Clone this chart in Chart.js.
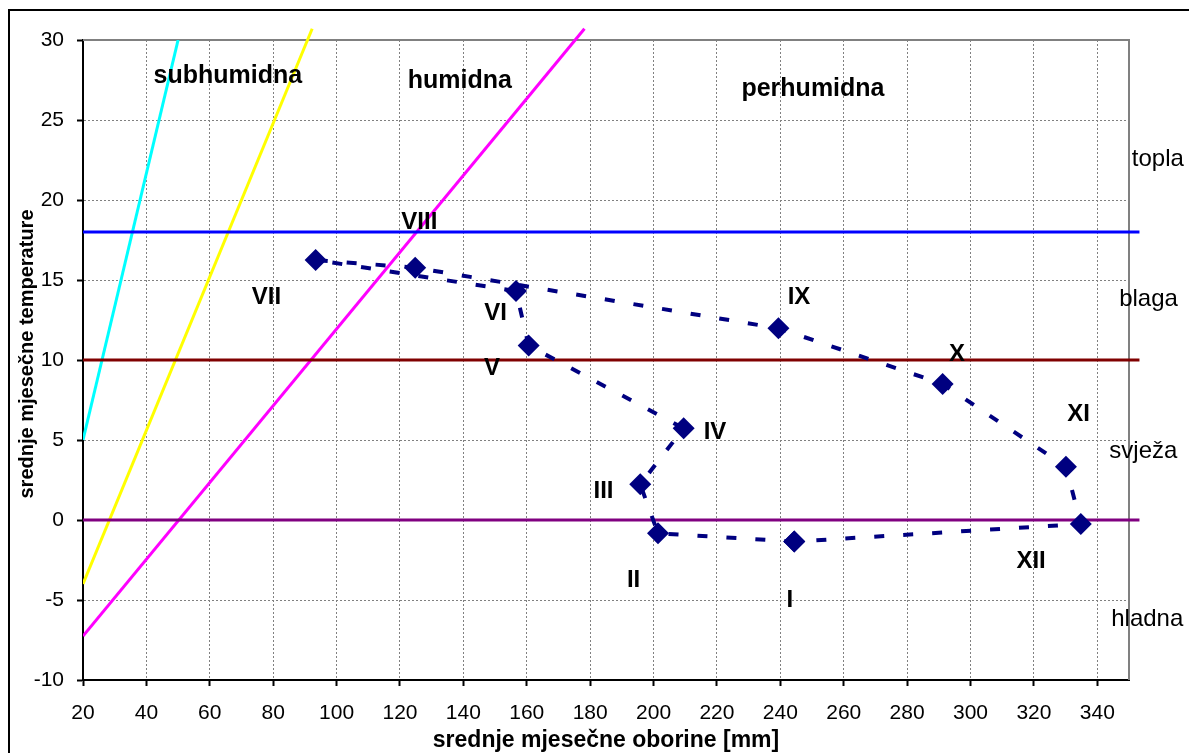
<!DOCTYPE html>
<html>
<head>
<meta charset="utf-8">
<script src="https://cdn.jsdelivr.net/npm/chart.js@4.4.0/dist/chart.umd.min.js"></script>
<style>
  html, body { margin: 0; padding: 0; background: #fff; }
</style>
</head>
<body>
<canvas id="klimadijagram" width="1189" height="753"></canvas>
<script>
// mjesečne vrijednosti (oborine mm, temperatura °C)
const mjeseci = ["I", "II", "III", "IV", "V", "VI", "VII", "VIII", "IX", "X", "XI", "XII"];
const oborine = [244.4, 201.4, 195.8, 209.5, 160.6, 156.6, 93.4, 124.8, 239.4, 291.2, 330.1, 334.8];
const temperature = [-1.35, -0.83, 2.23, 5.73, 10.9, 14.31, 16.25, 15.77, 11.98, 8.5, 3.33, -0.25];

// gdje stoje oznake mjeseci (u jedinicama osi, donji rub slova)
const oznakaX = [243.0, 193.7, 184.2, 219.4, 149.0, 150.2, 77.9, 126.1, 245.9, 295.7, 334.1, 319.1];
const oznakaY = [-5.46, -4.21, 1.36, 5.04, 9.06, 12.5, 13.5, 18.19, 13.48, 9.96, 6.21, -3.02];

const tickoviX = [20, 40, 60, 80, 100, 120, 140, 160, 180, 200, 220, 240, 260, 280, 300, 320, 340];
const tickoviY = [-10, -5, 0, 5, 10, 15, 20, 25, 30];

// granice toplinskih razreda
const granicaTopla = 18;
const granicaBlaga = 10;
const granicaSvjeza = 0;
const granicaOd = 20;
const granicaDo = 353.3;

// granice vlažnosti (kose linije)
const cijanX = [20, 50];
const cijanY = [5, 30];
const zutaX = [20, 92.3];
const zutaY = [-4, 30.7];
const ljubicastaX = [20, 178.2];
const ljubicastaY = [-7.25, 30.7];

const zone = ["subhumidna", "humidna", "perhumidna"];
const zoneX = [65.7, 138.9, 250.3];
const zoneY = [27.29, 26.98, 26.5];

const razredi = ["topla", "blaga", "svježa", "hladna"];
const razrediX = [350.9, 346.9, 343.8, 344.4];
const razrediY = [22.14, 13.38, 3.875, -6.63];

const FONT = "'Liberation Sans', Arial, sans-serif";

const tocke = (xs, ys) => xs.map((x, i) => ({ x, y: ys[i] }));

// zatvoreni krug: XII se spaja natrag na I
const godisnjiTok = tocke(oborine, temperature);
godisnjiTok.push({ x: oborine[0], y: temperature[0] });

function linija(data, boja, clip) {
  return {
    data,
    borderColor: boja,
    borderWidth: 3,
    pointRadius: 0,
    fill: false,
    clip
  };
}

const okvirITekst = {
  id: "okvirITekst",
  beforeDatasetsDraw(chart) {
    const { ctx, chartArea: a } = chart;
    ctx.save();
    ctx.strokeStyle = "#808080";
    ctx.lineWidth = 2;
    ctx.beginPath();
    ctx.moveTo(a.left, a.top);
    ctx.lineTo(a.right, a.top);
    ctx.lineTo(a.right, a.bottom);
    ctx.stroke();
    ctx.restore();
  },
  afterDraw(chart) {
    const { ctx, chartArea: a, scales: { x, y } } = chart;
    ctx.save();
    ctx.fillStyle = "#000";
    ctx.textBaseline = "alphabetic";

    ctx.font = "bold 24px " + FONT;
    ctx.textAlign = "center";
    mjeseci.forEach((m, i) => {
      ctx.fillText(m, x.getPixelForValue(oznakaX[i]), y.getPixelForValue(oznakaY[i]));
    });

    ctx.font = "bold 25px " + FONT;
    zone.forEach((z, i) => {
      ctx.fillText(z, x.getPixelForValue(zoneX[i]), y.getPixelForValue(zoneY[i]));
    });

    ctx.font = "24px " + FONT;
    ctx.textAlign = "left";
    razredi.forEach((r, i) => {
      ctx.fillText(r, x.getPixelForValue(razrediX[i]), y.getPixelForValue(razrediY[i]));
    });

    // naslovi osi
    ctx.font = "bold 23px " + FONT;
    ctx.textAlign = "center";
    ctx.fillText("srednje mjesečne oborine [mm]", (a.left + a.right) / 2, 746.5);

    ctx.save();
    ctx.translate(33, (a.top + a.bottom) / 2 - 6);
    ctx.rotate(-Math.PI / 2);
    ctx.font = "bold 20px " + FONT;
    ctx.fillText("srednje mjesečne temperature", 0, 0);
    ctx.restore();

    // vanjski okvir
    ctx.strokeStyle = "#000";
    ctx.lineWidth = 2;
    ctx.beginPath();
    ctx.moveTo(9, 760);
    ctx.lineTo(9, 10);
    ctx.lineTo(1195, 10);
    ctx.stroke();
    ctx.restore();
  }
};

const osnovnaOs = {
  type: "linear",
  grid: {
    color: "#808080",
    lineWidth: 1,
    tickColor: "#000",
    tickWidth: 2,
    tickLength: 6
  },
  border: { display: true, color: "#000", width: 2, dash: [2, 2] },
  ticks: { color: "#000", font: { family: FONT, size: 21 } }
};

new Chart(document.getElementById("klimadijagram"), {
  type: "line",
  data: {
    datasets: [
      {
        data: godisnjiTok,
        borderColor: "#000080",
        borderWidth: 4,
        borderDash: [10, 19],
        pointStyle: "rectRot",
        pointRadius: 11,
        pointBorderWidth: 0,
        pointBackgroundColor: "#000080",
        pointBorderColor: "#000080",
        fill: false,
        clip: 12
      },
      linija(tocke([granicaOd, granicaDo], [granicaTopla, granicaTopla]), "#0000ff", { left: 0, top: 0, right: 14, bottom: 0 }),
      linija(tocke([granicaOd, granicaDo], [granicaBlaga, granicaBlaga]), "#800000", { left: 0, top: 0, right: 14, bottom: 0 }),
      linija(tocke([granicaOd, granicaDo], [granicaSvjeza, granicaSvjeza]), "#800080", { left: 0, top: 0, right: 14, bottom: 0 }),
      linija(tocke(cijanX, cijanY), "#00ffff", 0),
      linija(tocke(zutaX, zutaY), "#ffff00", { left: 0, top: 14, right: 0, bottom: 0 }),
      linija(tocke(ljubicastaX, ljubicastaY), "#ff00ff", { left: 0, top: 14, right: 0, bottom: 0 })
    ]
  },
  options: {
    responsive: false,
    animation: false,
    layout: { padding: { left: 0, top: 40, right: 60, bottom: 0 } },
    plugins: { legend: { display: false }, tooltip: { enabled: false } },
    scales: {
      x: {
        ...osnovnaOs,
        position: "bottom",
        min: 20,
        max: 350,
        afterBuildTicks: s => { s.ticks = tickoviX.map(v => ({ value: v })); },
        afterFit: s => { s.height = 73; },
        ticks: { ...osnovnaOs.ticks, padding: 15, maxRotation: 0, autoSkip: false }
      },
      y: {
        ...osnovnaOs,
        position: "left",
        min: -10,
        max: 30,
        afterBuildTicks: s => { s.ticks = tickoviY.map(v => ({ value: v })); },
        afterFit: s => { s.width = 83; },
        ticks: { ...osnovnaOs.ticks, padding: 13 }
      }
    }
  },
  plugins: [okvirITekst]
});
</script>
</body>
</html>
